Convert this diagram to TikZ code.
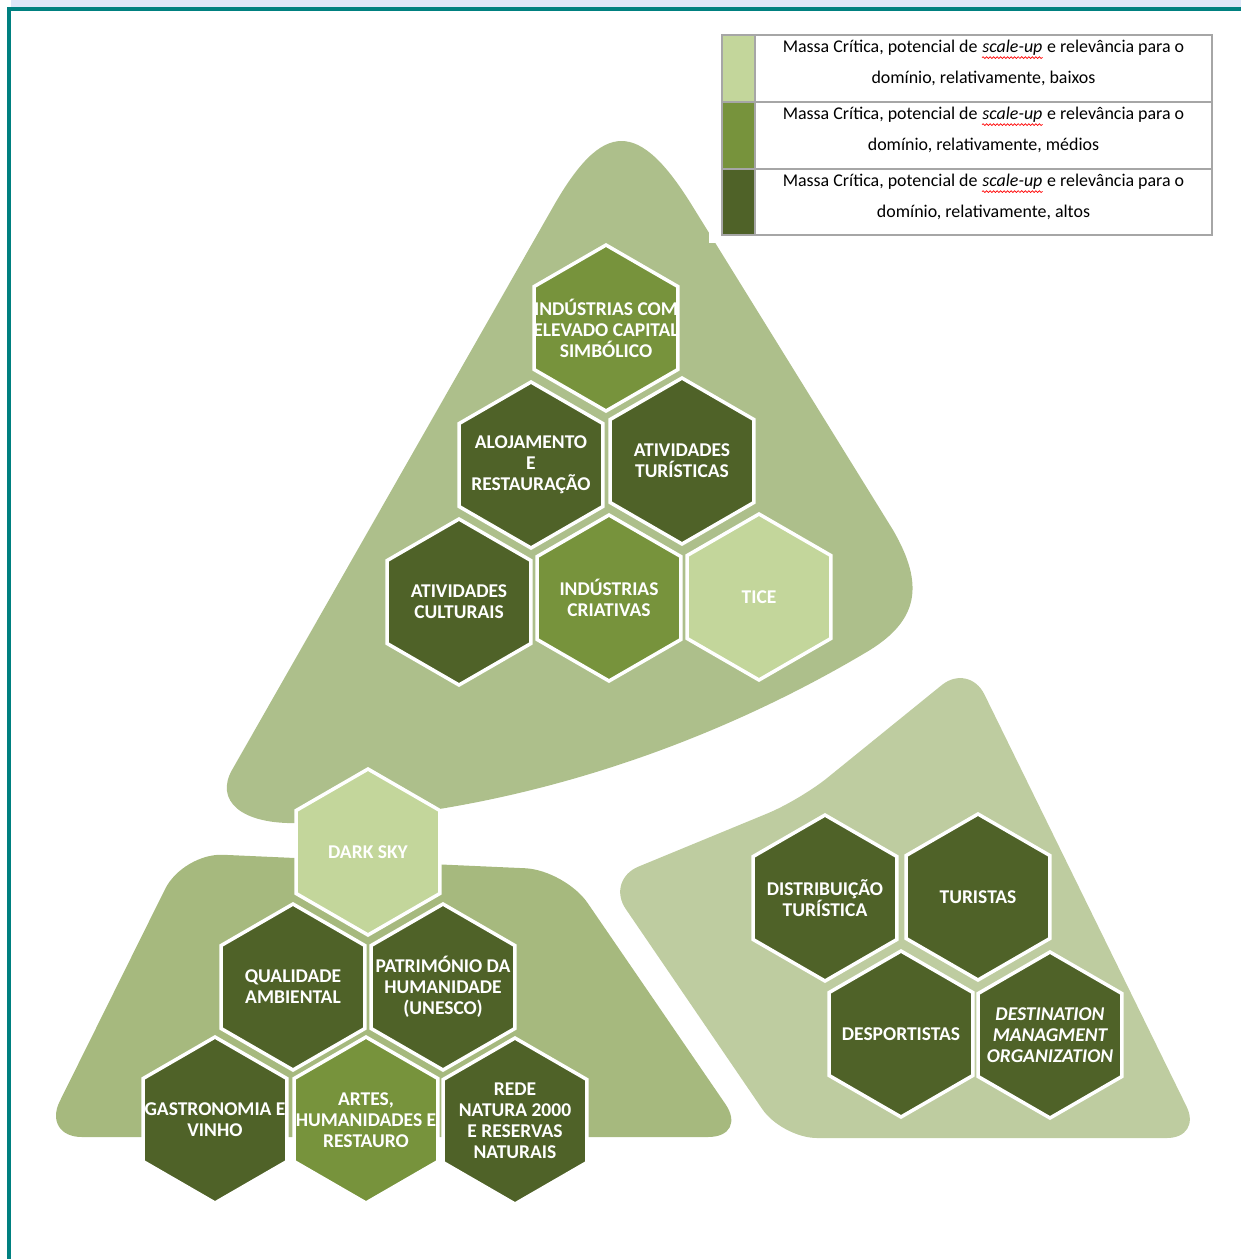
\documentclass[tikz,border=0pt]{standalone}
\usepackage{fontspec}
\setmainfont{Carlito}
\usetikzlibrary{shapes.geometric,decorations.pathmorphing}
\definecolor{hexlight}{HTML}{C3D69B}
\definecolor{hexmid}{HTML}{77933C}
\definecolor{hexdark}{HTML}{4F6228}
\definecolor{areatop}{HTML}{ADBF8B}
\definecolor{arealeft}{HTML}{A6B97E}
\definecolor{arearight}{HTML}{BECCA0}
\definecolor{framecol}{HTML}{008080}
\definecolor{bandcol}{HTML}{DEE6F8}
\newcommand\spellwave[1]{\tikz[baseline=(sw.base)]{\node[inner sep=0pt] (sw) {#1}; \draw[red, line width=0.4pt, decorate, decoration={snake, amplitude=0.5pt, segment length=2pt}] ([yshift=-1.2pt]sw.south west) -- ([yshift=-1.2pt]sw.south east);}}

\begin{document}
\begin{tikzpicture}[x=0.02cm, y=-0.02cm,
  hexa/.style={regular polygon, regular polygon sides=6, shape border rotate=30, minimum size=3.32cm, inner sep=0pt, draw=white, line width=2pt},
  hextext/.style={text=white, font=\bfseries\fontsize{11.1}{11.9}\selectfont, align=center, inner sep=0pt},
  legtext/.style={font=\fontsize{10.2}{18}\selectfont, align=center, inner sep=0pt},
  swatch/.style={minimum width=0.66cm, minimum height=1.34cm, inner sep=0pt, outer sep=0pt}]
\useasboundingbox (0,0) rectangle (1241,1259);
\fill [bandcol] (11,0) rectangle (1241,7);
\draw [framecol, line width=2.3pt] (9,1259) -- (9,9) -- (1241,9);
\fill [areatop] (232,770) -- (553,207) .. controls (603,119) and (639,119) .. (693,207) -- (893,530) .. controls (925,585) and (918,620) .. (870,650) .. controls (720,740) and (520,815) .. (300,823) .. controls (240,825) and (215,800) .. (232,770) -- cycle;
\fill [arealeft, rounded corners=0.8cm] (183,853) -- (565,870) -- (748,1137) -- (42,1137) -- cycle;
\fill [arearight, rounded corners=0.7cm] (606,880) -- (800,800) -- (969,663) -- (1202,1138) -- (782,1138) -- cycle;
\fill [white] (709,28) rectangle (1222,243);
\node [hexa, fill=hexmid, label={[hextext]center:{INDÚSTRIAS COM\\ELEVADO CAPITAL\\SIMBÓLICO}}] (simbolico) at (606,328) {};
\node [hexa, fill=hexdark, label={[hextext]center:{ALOJAMENTO\\E\\RESTAURAÇÃO}}] (alojamento) at (531,465) {};
\node [hexa, fill=hexdark, label={[hextext]center:{ATIVIDADES\\TURÍSTICAS}}] (turisticas) at (682,461) {};
\node [hexa, fill=hexdark, label={[hextext]center:{ATIVIDADES\\CULTURAIS}}] (culturais) at (459,602) {};
\node [hexa, fill=hexmid, label={[hextext]center:{INDÚSTRIAS\\CRIATIVAS}}] (criativas) at (609,598) {};
\node [hexa, fill=hexlight, label={[hextext]center:{TICE}}] (tice) at (759,597) {};
\node [hexa, fill=hexlight, label={[hextext]center:{DARK SKY}}] (darksky) at (368,852) {};
\node [hexa, fill=hexdark, label={[hextext]center:{QUALIDADE\\AMBIENTAL}}] (qualidade) at (293,987) {};
\node [hexa, fill=hexdark, label={[hextext]center:{PATRIMÓNIO DA\\HUMANIDADE\\(UNESCO)}}] (patrimonio) at (443,987) {};
\node [hexa, fill=hexdark, label={[hextext]center:{GASTRONOMIA E\\VINHO}}] (gastronomia) at (215,1120) {};
\node [hexa, fill=hexmid, label={[hextext]center:{ARTES,\\HUMANIDADES E\\RESTAURO}}] (artes) at (366,1120) {};
\node [hexa, fill=hexdark, label={[hextext]center:{REDE\\NATURA 2000\\E RESERVAS\\NATURAIS}}] (natura) at (515,1121) {};
\node [hexa, fill=hexdark, label={[hextext]center:{DISTRIBUIÇÃO\\TURÍSTICA}}] (distribuicao) at (825,898) {};
\node [hexa, fill=hexdark, label={[hextext]center:{TURISTAS}}] (turistas) at (978,897) {};
\node [hexa, fill=hexdark, label={[hextext]center:{DESPORTISTAS}}] (desportistas) at (901,1034) {};
\node [hexa, fill=hexdark, label={[hextext]center:{\itshape DESTINATION\\\itshape MANAGMENT\\\itshape ORGANIZATION}}] (dmo) at (1050,1035) {};
\node [swatch, fill=hexlight] (lowsw) at (738.5,68.5) {};
\node [swatch, fill=hexmid] (midsw) at (738.5,135.5) {};
\node [swatch, fill=hexdark] (highsw) at (738.5,202) {};
\node [legtext] (lowtx) at (983.5,63) {Massa Crítica, potencial de \spellwave{\textit{scale-up}} e relevância para o\\domínio, relativamente, baixos};
\node [legtext] (midtx) at (983.5,130) {Massa Crítica, potencial de \spellwave{\textit{scale-up}} e relevância para o\\domínio, relativamente, médios};
\node [legtext] (hightx) at (983.5,197) {Massa Crítica, potencial de \spellwave{\textit{scale-up}} e relevância para o\\domínio, relativamente, altos};
\draw [gray!70, line width=0.8pt] (722,35) rectangle (1212,235);
\draw [gray!70, line width=0.8pt] (722,102) -- (1212,102) (722,169) -- (1212,169) (755,35) -- (755,235);
\end{tikzpicture}
\end{document}
